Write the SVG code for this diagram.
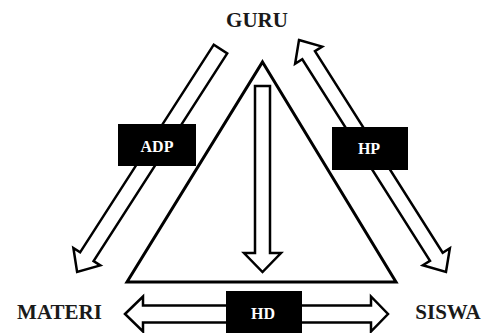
<svg xmlns="http://www.w3.org/2000/svg" width="488" height="333" viewBox="0 0 488 333">
<style>
.lbl{font-family:"Liberation Serif","Times New Roman",serif;font-weight:bold;font-size:21px;fill:#1a1a1a;text-anchor:middle}
.box{fill:#000}
.btxt{font-family:"Liberation Serif","Times New Roman",serif;font-weight:bold;font-size:16px;fill:#fff;text-anchor:middle}
.arr{fill:#fff;stroke:#000;stroke-width:2.5;stroke-linejoin:miter}
.tri{fill:#fff;stroke:#000;stroke-width:3;stroke-linejoin:miter}
</style>
<rect width="488" height="333" fill="#fff"/>
<g id="triangle">
<polygon class="tri" points="262.5,62 396,282 127,282"/>
</g>
<g id="connectors">
<polygon id="inner-arrow" class="arr" points="255,86 270,86 270,253 281,253 262.5,272 244,253 255,253"/>
<polygon id="adp-arrow" class="arr" transform="translate(220.5,49) rotate(122.76)" points="0,-8 247,-8 247,-16 265,0 247,16 247,8 0,8"/>
<polygon id="hp-arrow" class="arr" transform="translate(299,40) rotate(57.64)" points="0,0 18,-16 18,-7.5 256.6,-7.5 256.6,-16 274.6,0 256.6,16 256.6,7.5 18,7.5 18,16"/>
<polygon id="hd-arrow" class="arr" points="125,314 143,296.5 143,305.5 371,305.5 371,296.5 388,314 371,331.5 371,322.5 143,322.5 143,331.5"/>
</g>
<g id="guru"><text class="lbl" x="257" y="27">GURU</text></g>
<g id="materi"><text class="lbl" x="59.5" y="319">MATERI</text></g>
<g id="siswa"><text class="lbl" x="448" y="319">SISWA</text></g>
<g id="adp"><rect class="box" x="118" y="124" width="78" height="42"/><text class="btxt" x="157" y="152">ADP</text></g>
<g id="hp"><rect class="box" x="332" y="127" width="76" height="43"/><text class="btxt" x="369" y="154">HP</text></g>
<g id="hd"><rect class="box" x="226" y="291" width="76" height="44"/><text class="btxt" x="263" y="319">HD</text></g>
</svg>
